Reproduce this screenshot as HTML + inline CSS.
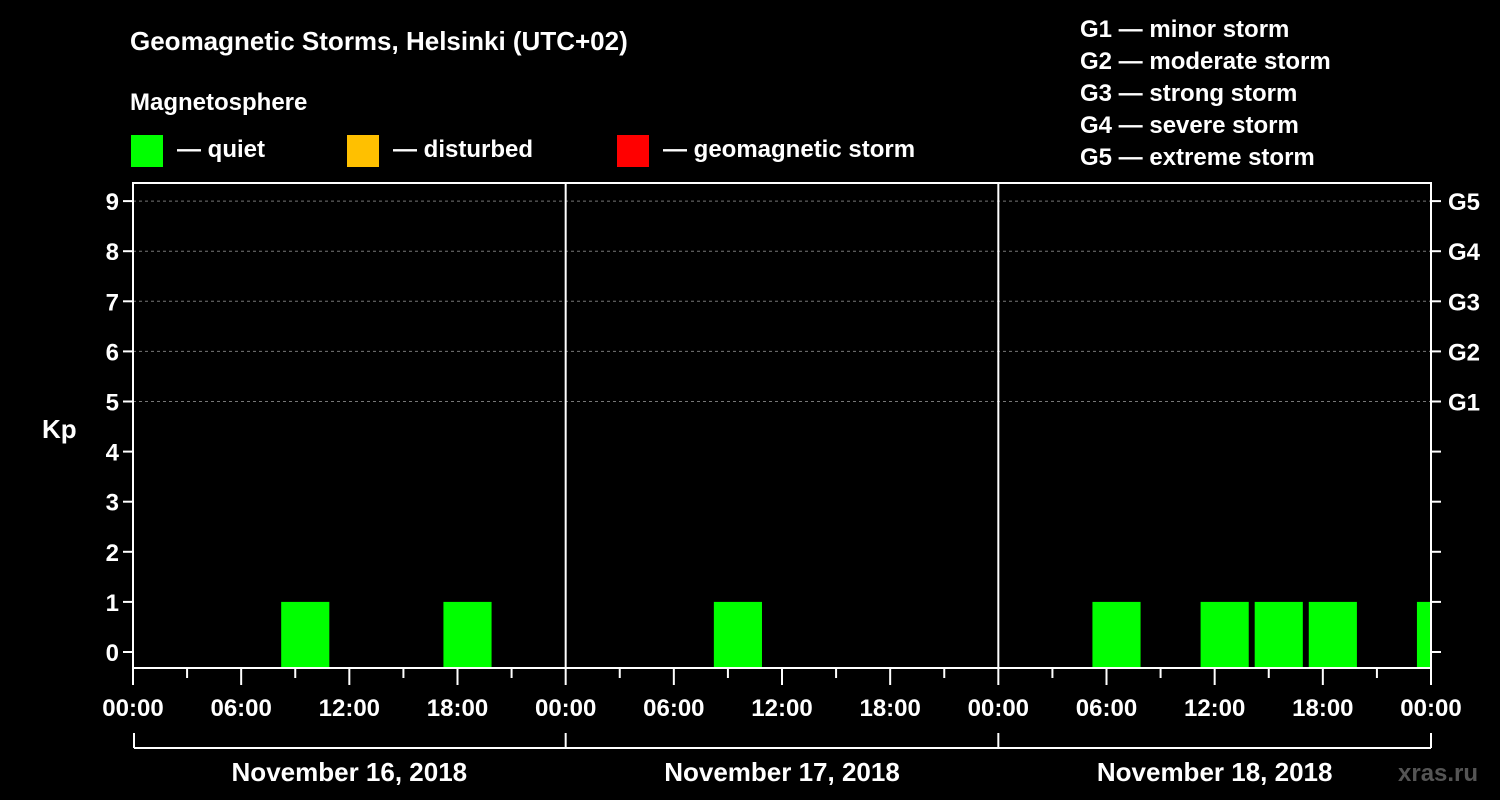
<!DOCTYPE html>
<html><head><meta charset="utf-8"><style>
body{margin:0;background:#000;width:1500px;height:800px;overflow:hidden}
svg{display:block;font-family:"Liberation Sans",sans-serif;font-weight:bold;fill:#fff}
</style></head><body>
<svg id="c" width="1500" height="800">
<text x="130" y="50" font-size="26">Geomagnetic Storms, Helsinki (UTC+02)</text>
<text x="130" y="110" font-size="24">Magnetosphere</text>
<g><rect x="131" y="135" width="32" height="32" fill="#00ff00"/><text x="177" y="157" font-size="24">— quiet</text></g>
<g><rect x="347" y="135" width="32" height="32" fill="#ffc000"/><text x="393" y="157" font-size="24">— disturbed</text></g>
<g><rect x="617" y="135" width="32" height="32" fill="#ff0000"/><text x="663" y="157" font-size="24">— geomagnetic storm</text></g>
<g font-size="24">
<text x="1080" y="37">G1 — minor storm</text><text x="1080" y="69">G2 — moderate storm</text><text x="1080" y="101">G3 — strong storm</text><text x="1080" y="133">G4 — severe storm</text><text x="1080" y="165">G5 — extreme storm</text></g>
<text x="42" y="438" font-size="26">Kp</text>
<text x="1398" y="781" font-size="24" fill="#555" style="fill:#555">xras.ru</text>
<g id="plot"></g>
</svg>
<script>
const kpValues=[0,0,1,0,0,1,0,0, 0,0,1,0,0,0,0,0, 0,1,0,1,1,1,0,1];
const dayLabels=["November 16, 2018","November 17, 2018","November 18, 2018"];
const timeLabels=["00:00","06:00","12:00","18:00"];
const gLabels=["G1","G2","G3","G4","G5"];
const X0=133,X1=1431,YT=183,YB=668;
const hoursTotal=72;
const xs=h=>X0+(X1-X0)*h/hoursTotal;
const ys=v=>652-v*50.1;
const g=document.getElementById('plot');
const NS="http://www.w3.org/2000/svg";
function mk(t,a){const e=document.createElementNS(NS,t);for(const k in a)e.setAttribute(k,a[k]);g.appendChild(e);return e;}
// gridlines
for(let v=5;v<=9;v++){const l=mk('line',{x1:X0,x2:X1,y1:ys(v),y2:ys(v),stroke:'#777','stroke-dasharray':'3,3','stroke-width':1});

}
// bars
kpValues.forEach((v,i)=>{if(v<=0)return;const h0=2+3*i+0.22;let h1=h0+2.67;if(h1>72)h1=72;
const r=mk('rect',{x:xs(h0),y:ys(v),width:xs(h1)-xs(h0),height:YB-ys(v),fill:'#00ff00'});

});
// frame
const fr=mk('rect',{x:X0,y:YT,width:X1-X0,height:YB-YT,fill:'none',stroke:'#fff','stroke-width':2});


for(let d=1;d<3;d++){const l=mk('line',{x1:xs(24*d),x2:xs(24*d),y1:YT,y2:YB,stroke:'#fff','stroke-width':2});

}
// y ticks
for(let v=0;v<=9;v++){const y=ys(v);
mk('line',{x1:X0-10,x2:X0,y1:y,y2:y,stroke:'#fff','stroke-width':2});
mk('line',{x1:X1,x2:X1+10,y1:y,y2:y,stroke:'#fff','stroke-width':2});
const t=mk('text',{x:X0-14,y:y+9,'font-size':24,'text-anchor':'end'});t.textContent=v;


if(v>=5){const gt=mk('text',{x:1448,y:y+9,'font-size':24});gt.textContent=gLabels[v-5];

}}
// x ticks
for(let h=0;h<=72;h+=3){const x=xs(h);const major=h%6===0;
mk('line',{x1:x,x2:x,y1:YB,y2:YB+(major?17:10),stroke:'#fff','stroke-width':2});
if(major){const t=mk('text',{x:x,y:716,'font-size':24,'text-anchor':'middle'});t.textContent=timeLabels[(h%24)/6];

}}
// bracket
mk('line',{x1:X0+1,x2:X1,y1:748,y2:748,stroke:'#fff','stroke-width':2});
for(let d=0;d<=3;d++){mk('line',{x1:xs(24*d)+(d==0?1:0),x2:xs(24*d)+(d==0?1:0),y1:733,y2:748,stroke:'#fff','stroke-width':2});}
dayLabels.forEach((s,d)=>{const t=mk('text',{x:xs(24*d+12),y:781,'font-size':26,'text-anchor':'middle'});t.textContent=s;

});
</script>
</body></html>
